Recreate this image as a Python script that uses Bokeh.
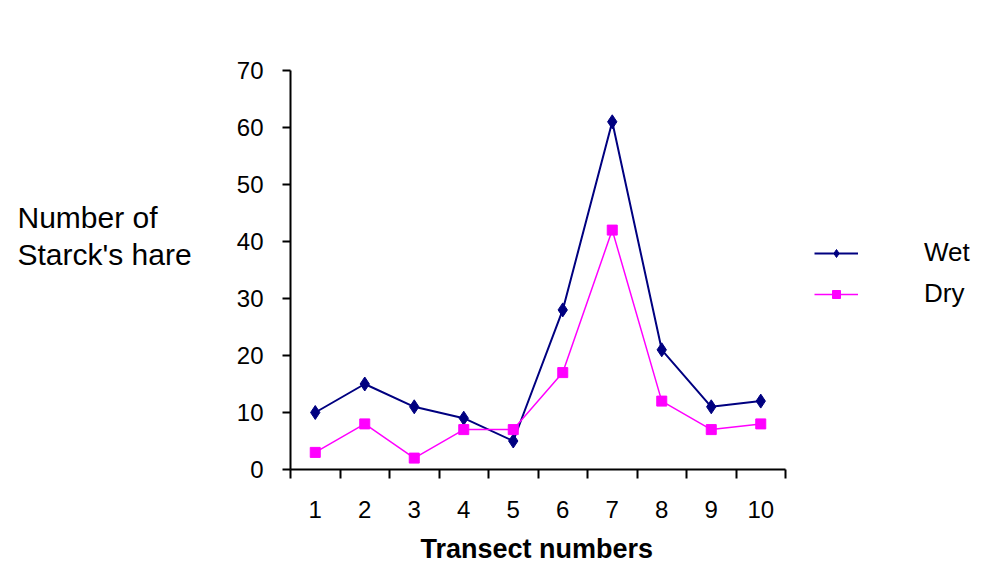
from bokeh.plotting import figure
from bokeh.models import Range1d, FixedTicker, Legend, LegendItem, Label, Title
from bokeh.layouts import row
from bokeh.embed import file_html
from bokeh.resources import INLINE

transects = [1, 2, 3, 4, 5, 6, 7, 8, 9, 10]
tick_labels = ["1", "2", "3", "4", "5", "6", "7", "8", "9", "10"]
wet = [10, 15, 11, 9, 5, 28, 61, 21, 11, 12]
dry = [3, 8, 2, 7, 7, 17, 42, 12, 7, 8]
y_ticks = [0, 10, 20, 30, 40, 50, 60, 70]
y_title = "Number of\nStarck's hare"
x_title = "Transect numbers"

FONT = "Liberation Sans"
W, H = 981, 581
SIDE_W = 225
LEFT_B = 290 - SIDE_W
AXIS_PX = 495          # pixel length of the category axis
FRAME_W = W - SIDE_W - LEFT_B

# left strip holding the horizontal y-axis title
side = figure(width=SIDE_W, height=H, output_backend="svg", toolbar_location=None,
              x_range=Range1d(0, 1), y_range=Range1d(0, 1),
              min_border=0, outline_line_color=None)
side.axis.visible = False
side.grid.visible = False
side.add_layout(Label(x=17, y=269, x_units="screen", y_units="screen",
                      text=y_title, text_font=FONT, text_font_size="30px",
                      text_color="black", text_baseline="top", text_align="left",
                      text_line_height=1.15))

x0 = transects[0] - 0.5
x1 = transects[-1] + 0.5
p = figure(width=W - SIDE_W, height=H, output_backend="svg", toolbar_location=None,
           x_range=Range1d(x0, x0 + (x1 - x0) * FRAME_W / AXIS_PX),
           y_range=Range1d(y_ticks[0], y_ticks[-1]),
           min_border_left=LEFT_B, min_border_right=0,
           min_border_top=70, min_border_bottom=112)
p.outline_line_color = None
p.xgrid.visible = False
p.ygrid.visible = False

boundaries = [t - 0.5 for t in transects] + [transects[-1] + 0.5]

xa = p.xaxis[0]
xa.bounds = (x0, x1)
xa.ticker = FixedTicker(ticks=transects, minor_ticks=boundaries)
xa.major_label_overrides = {t: l for t, l in zip(transects, tick_labels)}
xa.major_tick_out = 0
xa.major_tick_in = 0
xa.minor_tick_out = 9
xa.minor_tick_in = 0
xa.minor_tick_line_color = "black"
xa.minor_tick_line_width = 2
xa.axis_line_width = 2
xa.axis_line_color = "black"
xa.major_label_text_font = FONT
xa.major_label_text_font_size = "24px"
xa.major_label_text_color = "black"
xa.major_label_standoff = 22

p.add_layout(Title(text=x_title, align="left", offset=130, standoff=22,
                   text_font=FONT, text_font_style="bold",
                   text_font_size="27px", text_color="black"), "below")

ya = p.yaxis[0]
ya.ticker = FixedTicker(ticks=y_ticks)
ya.major_tick_out = 8
ya.major_tick_in = 0
ya.major_tick_line_width = 2
ya.major_tick_line_color = "black"
ya.minor_tick_out = 0
ya.minor_tick_in = 0
ya.axis_line_width = 2
ya.axis_line_color = "black"
ya.major_label_text_font = FONT
ya.major_label_text_font_size = "24px"
ya.major_label_text_color = "black"
ya.major_label_standoff = 19

wet_line = p.line(transects, wet, line_color="#000080", line_width=2)
wet_pts = p.scatter(transects, wet, marker="diamond", size=14,
                    fill_color="#000080", line_color="#000080")
dry_line = p.line(transects, dry, line_color="#FF00FF", line_width=1.5)
dry_pts = p.scatter(transects, dry, marker="square", size=10,
                    fill_color="#FF00FF", line_color="#FF00FF")

legend = Legend(items=[LegendItem(label="Wet", renderers=[wet_line, wet_pts]),
                       LegendItem(label="Dry", renderers=[dry_line, dry_pts])],
                location=(AXIS_PX + 29, 160), glyph_width=44, glyph_height=20,
                label_height=20, spacing=10, padding=0, margin=0,
                border_line_color=None, background_fill_alpha=0,
                label_standoff=66, label_text_font=FONT,
                label_text_font_size="26px", label_text_color="black")
p.add_layout(legend)

layout = row(side, p)
open("out.html", "w").write(file_html(layout, INLINE))
